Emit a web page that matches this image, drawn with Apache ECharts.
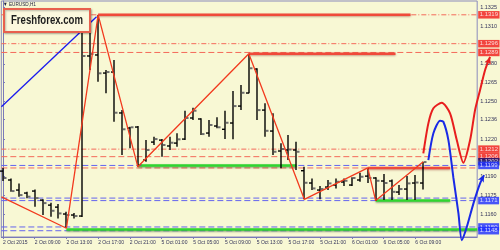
<!DOCTYPE html>
<html><head><meta charset="utf-8">
<script src="https://cdn.jsdelivr.net/npm/echarts@6/dist/echarts.min.js"></script>
<style>html,body{margin:0;padding:0;background:#f8f8d4;}#c{width:500px;height:250px;}</style>
</head><body><div id="c"></div>
<script>
// ---- data ----
const opens  = [1.11945,1.11874,1.11794,1.1177,1.11786,1.11714,1.11674,1.11658,1.11603,1.11595,1.11587,1.12862,1.1287,1.12726,1.12734,1.12408,1.12288,1.12296,1.12033,1.12176,1.12192,1.12145,1.12168,1.122,1.12368,1.1236,1.12248,1.12304,1.12278,1.12328,1.12463,1.12567,1.12758,1.12431,1.12264,1.12105,1.12113,1.12113,1.11948,1.1185,1.11794,1.11818,1.11834,1.11858,1.11834,1.11874,1.11905,1.1189,1.11866,1.11866,1.11778,1.11802,1.1185,1.1185];
const highs  = [1.11969,1.11887,1.11847,1.1178,1.11799,1.1172,1.11693,1.11682,1.11621,1.11611,1.13125,1.13165,1.13189,1.1275,1.1283,1.12431,1.12298,1.12304,1.12192,1.12219,1.122,1.12219,1.12246,1.12426,1.1245,1.12365,1.12352,1.12373,1.12426,1.12583,1.12631,1.12875,1.12764,1.12485,1.12405,1.12166,1.12232,1.12179,1.1198,1.11887,1.11826,1.11874,1.11887,1.11887,1.11895,1.11932,1.11967,1.11895,1.11921,1.11879,1.11834,1.11905,1.11913,1.12019];
const lows   = [1.11866,1.1178,1.11741,1.11728,1.11661,1.11595,1.11581,1.11568,1.11491,1.11568,1.11579,1.1275,1.12657,1.12565,1.12338,1.12073,1.12126,1.1198,1.12019,1.12153,1.12059,1.12113,1.12139,1.12192,1.12352,1.12232,1.12219,1.12286,1.122,1.12198,1.12431,1.12565,1.12352,1.12219,1.12073,1.11967,1.12033,1.11953,1.1172,1.11794,1.1172,1.11794,1.11807,1.11826,1.11826,1.1186,1.1185,1.11706,1.11714,1.11714,1.11754,1.11714,1.11714,1.11799];
const closes = [1.1189,1.11786,1.11754,1.11741,1.1173,1.1169,1.11629,1.11608,1.11595,1.11587,1.12862,1.12878,1.12724,1.12734,1.1241,1.12278,1.12294,1.11993,1.12113,1.122,1.12153,1.12171,1.12198,1.12368,1.12426,1.1224,1.12312,1.12294,1.1233,1.12463,1.12569,1.12764,1.12431,1.12266,1.12099,1.12121,1.12117,1.12099,1.11852,1.11807,1.11802,1.11847,1.1186,1.11868,1.1189,1.119,1.1189,1.11868,1.1185,1.1178,1.11802,1.11847,1.11854,1.12017];

const xTickIdx    = [0,4,8,12,16,20,24,28,32,36,40,44,48,52];
const xTickLabels = ['2 Oct 2015','2 Oct 09:00','2 Oct 13:00','2 Oct 17:00','2 Oct 21:00','5 Oct 01:00','5 Oct 05:00','5 Oct 09:00','5 Oct 13:00','5 Oct 17:00','5 Oct 21:00','6 Oct 01:00','6 Oct 05:00','6 Oct 09:00'];
const yTicks      = [1.1325,1.1310,1.1280,1.1265,1.1250,1.1236,1.1220,1.1190,1.1175,1.1160];

const redDashDotLevels = [1.1319,1.1296,1.1212];
const redDashLevels    = [1.1289,1.1206,1.1197];
const blueDashLevels   = [1.1199,1.1173,1.1171,1.1150,1.1147];

const resStart = [12,31,46], resEnd = [51.4,49.5,56.4], resPrice = [1.1319,1.1288,1.1197];
const supStart = [8,17,47],  supEnd = [59.8,37,56.4],   supPrice = [1.1148,1.1199,1.1171];

const zigzagIdx   = [-0.2,8,12,17,31,38,46,47,53];
const zigzagPrice = [1.1174,1.1149,1.1319,1.1198,1.1288,1.1172,1.1197,1.1171,1.1202];

const trendIdx = [-0.2,11.8], trendPrice = [1.12458,1.13175];

const upPathIdx   = [52.7,53.33,53.96,55.01,56.05,56.89,57.72,58.56,59.18,59.81,60.44,61.06];
const upPathPrice = [1.12086,1.12325,1.12445,1.1249,1.12405,1.12192,1.12011,1.12192,1.12431,1.12591,1.1275,1.12854];
const dnPathIdx   = [53.33,53.96,54.8,55.21,55.84,56.47,57.1,57.52,58.15,58.98,59.81,60.31];
const dnPathPrice = [1.12033,1.12246,1.12346,1.12338,1.12192,1.1189,1.11608,1.11395,1.11501,1.11688,1.11847,1.11913];

const tagPrices = [1.1319,1.1296,1.1289,1.1212,1.1206,1.1202,1.1199,1.1171,1.1150,1.1147];
const tagTexts  = ['1.1319','1.1296','1.1289','1.1212','1.1206','1.1202','1.1199','1.1171','1.1150','1.1148'];
const tagKinds  = ['res','res','res','res','res','bid','sup','sup','sup','sup'];

// ---- chart ----
const X_MIN = -0.21, X_MAX = 59.8, Y_MIN = 1.1142, Y_MAX = 1.1330;
const GRID_W = 479, GRID_H = 236;
const pxPerX = GRID_W / (X_MAX - X_MIN), pxPerY = GRID_H / (Y_MAX - Y_MIN);
// overlay grid (same scale, wider) so forecast paths can run past the price axis
const X2_MAX = X_MIN + 494 / pxPerX, Y2_MIN = Y_MIN - 5 / pxPerY;

const FF = '"Liberation Sans",Arial,sans-serif';
const AX = '#33335a';
const tagColor = {res:'#f01818', bid:'#0a0a70', sup:'#1a2aff'};

const bars = opens.map((o,i)=>[i,o,highs[i],lows[i],closes[i]]);
const series = [];

function levelSeries(p, color, type){
  return {type:'line', data:[[X_MIN,p],[X_MAX,p]], symbol:'none', silent:true, z:1,
    lineStyle:{color, width:1, type}};
}
redDashDotLevels.forEach(p=>series.push(levelSeries(p,'#f46a5a',[5,2,1,2])));
redDashLevels.forEach(p=>series.push(levelSeries(p,'#f46a5a',[6,3])));
blueDashLevels.forEach(p=>series.push(levelSeries(p,'#6464ee',[6,3])));

supStart.forEach((s,k)=>series.push({type:'line', data:[[s,supPrice[k]],[supEnd[k],supPrice[k]]], symbol:'none', silent:true, z:2,
  lineStyle:{color:'#2fd62f', width:2.5, shadowColor:'rgba(0,60,0,0.45)', shadowBlur:2, shadowOffsetY:1}}));
resStart.forEach((s,k)=>series.push({type:'line', data:[[s,resPrice[k]],[resEnd[k],resPrice[k]]], symbol:'none', silent:true, z:2,
  lineStyle:{color:'#f04a3a', width:2.5, shadowColor:'rgba(120,0,0,0.35)', shadowBlur:2, shadowOffsetY:1}}));

series.push({
  type:'custom', data:bars, encode:{x:0,y:[1,2,3,4]}, z:3,
  renderItem(params, api){
    const i = api.value(0);
    const pO = api.coord([i, api.value(1)]), pH = api.coord([i, api.value(2)]);
    const pL = api.coord([i, api.value(3)]), pC = api.coord([i, api.value(4)]);
    const x = Math.round(pH[0]);
    return {type:'group', children:[
      {type:'line', shape:{x1:x,y1:pH[1],x2:x,y2:pL[1]}, style:{stroke:'#000',lineWidth:1.4}},
      {type:'line', shape:{x1:x-3,y1:pO[1],x2:x,y2:pO[1]}, style:{stroke:'#000',lineWidth:1.4}},
      {type:'line', shape:{x1:x+1,y1:pC[1],x2:x+3.5,y2:pC[1]}, style:{stroke:'#6e6e6e',lineWidth:2}}
    ]};
  }
});

series.push({type:'line', data:zigzagIdx.map((x,k)=>[x,zigzagPrice[k]]), symbol:'none', z:4, silent:true,
  lineStyle:{color:'#f23a1e', width:1.3}});
series.push({type:'line', data:trendIdx.map((x,k)=>[x,trendPrice[k]]), symbol:'none', z:4, silent:true,
  lineStyle:{color:'#1a1aee', width:1.3}});

function pathSeries(xs, ps, color, rot){
  const d = xs.map((x,k)=>({value:[x,ps[k]], symbol: k===xs.length-1?'arrow':'none', symbolSize:[5,7], symbolRotate: rot}));
  return {type:'line', xAxisIndex:1, yAxisIndex:1, data:d, smooth:0.25, clip:false, showSymbol:true, z:5, silent:true,
    itemStyle:{color}, lineStyle:{color, width:2}};
}
series.push(pathSeries(upPathIdx, upPathPrice, '#e81e1e', -20));
series.push(pathSeries(dnPathIdx, dnPathPrice, '#1a2ae6', -28));

series.push({type:'scatter', clip:false, symbolSize:0, z:10, silent:true,
  data: tagPrices.map((p,k)=>({value:[X_MAX,p], label:{backgroundColor:tagColor[tagKinds[k]], formatter:tagTexts[k]}})),
  label:{show:true, position:'right', distance:1, color:'#fff', fontSize:6, fontFamily:FF, padding:[1,1.5,0.5,1.5], lineHeight:6}
});

const chart = echarts.init(document.getElementById('c'), null, {renderer:'canvas'});
chart.setOption({
  animation:false,
  backgroundColor:'#f8f8d4',
  grid:[
    {left:1, right:20, top:1, bottom:13, show:true, borderColor:'#8a8abc', borderWidth:1},
    {left:1, right:5, top:1, bottom:8, show:false}
  ],
  xAxis:[{type:'value', min:X_MIN, max:X_MAX,
    axisLine:{show:true, lineStyle:{color:'#7a7ab8'}},
    axisTick:{show:true, customValues:xTickIdx, length:2, lineStyle:{color:'#7a7ab8'}},
    axisLabel:{customValues:xTickIdx, formatter:v=>xTickLabels[xTickIdx.indexOf(v)]||'', align:'left', margin:3, fontSize:5, fontFamily:FF, color:AX},
    splitLine:{show:false}},
    {type:'value', gridIndex:1, min:X_MIN, max:X2_MAX, show:false}],
  yAxis:[{type:'value', position:'right', min:Y_MIN, max:Y_MAX,
    axisLine:{show:true, lineStyle:{color:'#7a7ab8'}},
    axisTick:{show:true, customValues:yTicks, length:2, lineStyle:{color:'#7a7ab8'}},
    axisLabel:{customValues:yTicks, formatter:v=>v.toFixed(4), margin:3, fontSize:5.5, fontFamily:FF, color:AX},
    splitLine:{show:false}},
    {type:'value', gridIndex:1, min:Y2_MIN, max:Y_MAX, show:false}],
  graphic:[
    {type:'rect', z:100, shape:{x:4,y:9,width:86,height:23}, style:{fill:'#fbf8de', stroke:'#e8604e', lineWidth:2, shadowColor:'rgba(0,0,0,0.25)', shadowBlur:2, shadowOffsetX:1, shadowOffsetY:1}},
    {type:'text', z:101, x:47, y:21, scaleX:0.8, style:{text:'Freshforex.com', font:'bold 12px '+FF, fill:'#1c1c1c', align:'center', verticalAlign:'middle'}},
    {type:'text', z:101, x:3, y:1.5, scaleX:0.85, style:{text:'▼ EURUSD,H1', font:'5.5px '+FF, fill:'#222244'}}
  ],
  series
});
</script></body></html>
